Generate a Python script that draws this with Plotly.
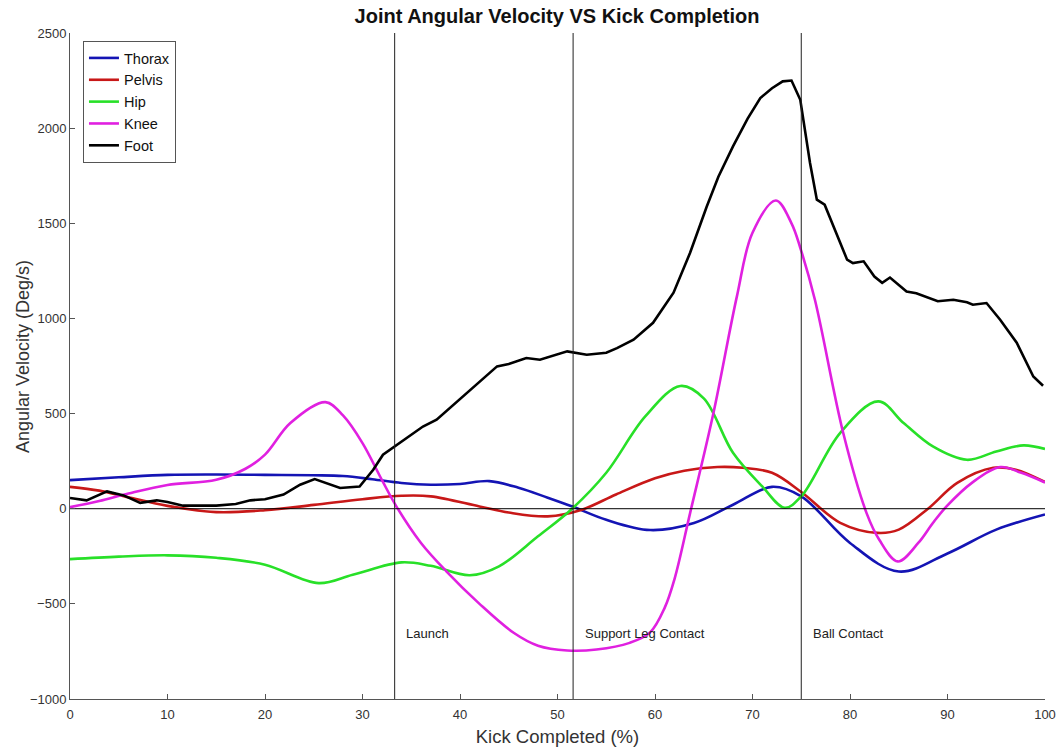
import plotly.graph_objects as go

# ---- data ----
thorax_x = [0, 5, 10, 15, 20, 25, 28, 31, 34, 37, 40, 43, 46, 49, 51.6, 55, 59.5, 64, 68, 72, 75, 80, 85, 90, 95, 100]
thorax_y = [150, 165, 178, 180, 178, 176, 172, 155, 135, 126, 130, 145, 110, 58, 10, -58, -112, -75, 21, 115, 65, -180, -330, -235, -110, -30]

pelvis_x = [0, 3, 6, 10, 15, 20, 25, 30, 34, 37, 42, 45, 49, 52.5, 56, 60, 63, 66.4, 69, 72, 75, 79, 82.8, 85, 88, 91, 94.7, 97, 100]
pelvis_y = [115, 95, 60, 15, -18, -8, 20, 50, 68, 65, 12, -20, -40, -5, 75, 160, 200, 219, 215, 189, 88, -74, -127, -110, 0, 136, 215, 205, 140]

hip_x = [0, 5, 10, 15, 20, 25.5, 29, 34, 37, 41, 44, 48, 51.5, 55, 59, 62.6, 65, 68, 71, 73.3, 75, 79, 82.9, 85.5, 88.5, 92, 95, 97.8, 100]
hip_y = [-265, -252, -245, -258, -294, -391, -347, -282, -300, -350, -303, -145, 0, 189, 485, 645, 580, 294, 117, 5, 65, 399, 564, 450, 327, 257, 301, 333, 314]

knee_x = [0, 3, 6, 10, 15, 18, 20, 22.6, 26.2, 28, 30, 32, 33.5, 36, 38.6, 42, 45.5, 48, 51, 54, 57.4, 59.5, 61, 62, 63.6, 66, 68.4, 70, 72.4, 74, 74.9, 76.4, 79.3, 81.7, 83, 84.9, 87, 88.5, 89.9, 92.5, 95.4, 97.5, 100]
knee_y = [8, 40, 80, 125, 152, 210, 284, 450, 560, 490, 345, 150, 10, -180, -329, -500, -652, -720, -745, -740, -705, -650, -520, -370, -23, 504, 1116, 1450, 1620, 1500, 1371, 1098, 399, -23, -163, -277, -180, -75, 12, 136, 219, 190, 138]

foot_x = [0, 1.7, 3.8, 5.5, 7.2, 8.9, 10, 11.6, 15, 17, 18.5, 20, 21.9, 23.6, 25.1, 26.5, 27.7, 29.7, 31.1, 32.1, 33.5, 35, 36.2, 37.6, 40.3, 42.4, 43.8, 45, 46.8, 48.2, 51, 53, 55, 56.1, 57.8, 59.8, 61.9, 63.6, 65.3, 66.5, 68, 69.5, 70.8, 72, 73.1, 74, 74.9, 75.9, 76.6, 77.4, 79.7, 80.3, 81.4, 82.5, 83.3, 84.1, 85.8, 86.8, 88.2, 89, 90.6, 92, 92.6, 94, 95.4, 97.1, 98.8, 99.8]
foot_y = [56, 44, 91, 70, 31, 44, 35, 16, 16, 25, 44, 50, 74, 126, 156, 130, 109, 117, 205, 284, 336, 390, 432, 468, 590, 680, 748, 760, 792, 783, 827, 809, 820, 844, 888, 977, 1135, 1345, 1587, 1745, 1904, 2050, 2158, 2210, 2246, 2250, 2149, 1817, 1624, 1598, 1309, 1291, 1300, 1220, 1187, 1215, 1141, 1132, 1104, 1090, 1098, 1085, 1072, 1081, 993, 872, 695, 646]

event_x = [33.3, 51.6, 75.0]
event_labels = ["Launch", "Support Leg Contact", "Ball Contact"]
label_y = -657

x_ticks = [0, 10, 20, 30, 40, 50, 60, 70, 80, 90, 100]
y_ticks = [-1000, -500, 0, 500, 1000, 1500, 2000, 2500]

FONT = "Liberation Sans, Arial, sans-serif"

fig = go.Figure()

series = [
    ("Thorax", thorax_x, thorax_y, "#1414b4", "spline"),
    ("Pelvis", pelvis_x, pelvis_y, "#c81818", "spline"),
    ("Hip", hip_x, hip_y, "#28e028", "spline"),
    ("Knee", knee_x, knee_y, "#e020e0", "spline"),
    ("Foot", foot_x, foot_y, "#000000", "linear"),
]
for name, xs, ys, col, shape in series:
    fig.add_trace(go.Scatter(
        x=xs, y=ys, mode="lines", name=name,
        line=dict(color=col, width=2.6, shape=shape, smoothing=1.0),
    ))

# zero line
fig.add_trace(go.Scatter(x=[0, 100], y=[0, 0], mode="lines", showlegend=False,
                         line=dict(color="black", width=1), hoverinfo="skip"))
# event lines
for ex in event_x:
    fig.add_trace(go.Scatter(x=[ex, ex], y=[-1000, 2510], mode="lines", showlegend=False,
                             line=dict(color="#202020", width=1), hoverinfo="skip",
                             cliponaxis=False))

for ex, lab in zip(event_x, event_labels):
    fig.add_annotation(x=ex + 1.0, y=label_y, text=lab, showarrow=False,
                       xanchor="left", yanchor="middle",
                       font=dict(family=FONT, size=13, color="#222222"))

# y-axis title placed as rotated text
fig.add_annotation(xref="paper", yref="paper", x=-0.0482, y=0.5135,
                   text="Angular Velocity (Deg/s)", showarrow=False, textangle=-90,
                   xanchor="center", yanchor="middle",
                   font=dict(family=FONT, size=18, color="#333333"))

fig.update_layout(
    width=1057, height=751,
    margin=dict(l=70, r=12, t=33, b=52, autoexpand=False),
    paper_bgcolor="white", plot_bgcolor="white",
    font=dict(family=FONT, color="#333333"),
    title=dict(text="<b>Joint Angular Velocity VS Kick Completion</b>",
               x=0.527, xanchor="center", y=0.979, yanchor="middle",
               font=dict(family=FONT, size=20, color="#111111")),
    showlegend=True,
    legend=dict(x=0.0133, y=0.988, xanchor="left", yanchor="top",
                bgcolor="white", bordercolor="#555555", borderwidth=1,
                font=dict(family=FONT, size=14.5, color="#111111"),
                tracegroupgap=0, itemwidth=30),
)
fig.update_xaxes(range=[0, 100], tickvals=x_ticks, showgrid=False, zeroline=False,
                 showline=True, linecolor="#555555", linewidth=1, mirror=False,
                 ticks="inside", ticklen=5, tickcolor="#555555", automargin=False,
                 ticklabelstandoff=3,
                 tickfont=dict(family=FONT, size=13, color="#333333"),
                 title=dict(text="Kick Completed (%)", standoff=9,
                            font=dict(family=FONT, size=18.5, color="#333333")))
fig.update_yaxes(range=[-1000, 2500], tickvals=y_ticks, showgrid=False, zeroline=False,
                 showline=True, linecolor="#555555", linewidth=1, mirror=False,
                 ticks="inside", ticklen=5, tickcolor="#555555", automargin=False,
                 tickfont=dict(family=FONT, size=13, color="#333333"))

fig.write_html("out.html")
